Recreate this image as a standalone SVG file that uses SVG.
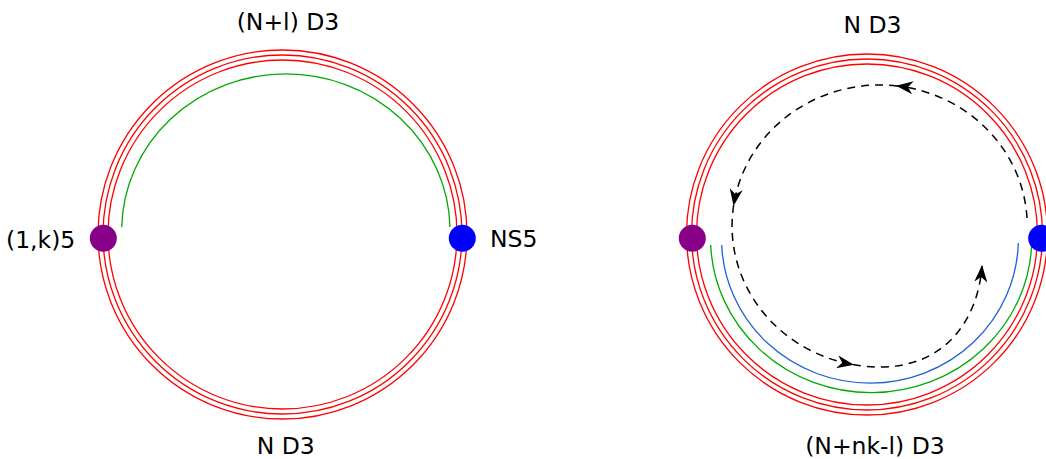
<svg xmlns="http://www.w3.org/2000/svg" width="1046" height="459" viewBox="0 0 1046 459">
<style>
.red{fill:none;stroke:#ff0000;stroke-width:1.3}
.green{fill:none;stroke:#00aa00;stroke-width:1.3}
.blue{fill:none;stroke:#1f5fd6;stroke-width:1.3}
.dash{fill:none;stroke:#000;stroke-width:1.5;stroke-dasharray:8 6}
.lbl{font-family:"DejaVu Sans",sans-serif;font-size:23.5px;fill:#000}
</style>
<defs>
<marker id="arr" markerUnits="userSpaceOnUse" markerWidth="22" markerHeight="18" viewBox="-18 -9 20 18" refX="0" refY="0" orient="auto">
<path d="M1,0 L-16,-6.5 L-11,0 L-16,6.5 Z" fill="#000"/>
</marker>
</defs>
<g id="left-branes">
<circle class="red" cx="282.5" cy="234.5" r="184.5"/>
<circle class="red" cx="282.5" cy="234.5" r="179.5"/>
<circle class="red" cx="282.5" cy="234.5" r="174.5"/>
<path class="green" d="M121.7,227 A164.2,157 0 0 1 450,227"/>
</g>
<g id="left-nodes">
<circle id="node-1k5-left" cx="103.3" cy="238.3" r="13.5" fill="#880088"/>
<circle id="node-ns5-left" cx="462.3" cy="238.3" r="13.5" fill="#0000ff"/>
</g>
<g id="right-branes">
<circle class="red" cx="867" cy="234.5" r="180.5"/>
<circle class="red" cx="867" cy="234.5" r="175.5"/>
<circle class="red" cx="867" cy="234.5" r="170.5"/>
<path class="green" d="M710.7,245 A160.6,154 0 0 0 1031.7,243"/>
<path class="blue" d="M721.7,245 A148.4,144.3 0 0 0 1018.3,243"/>
</g>
<g id="connectors">
<path class="dash" marker-end="url(#arr)" d="M1027,218 A148,141 0 0 0 897,85.9"/>
<path class="dash" marker-end="url(#arr)" d="M897,85.9 A148,141 0 0 0 733.7,205"/>
<path class="dash" marker-end="url(#arr)" d="M733.7,205 A148,141 0 0 0 853,364.6"/>
<path class="dash" marker-end="url(#arr)" d="M853,364.6 A148,141 0 0 0 880,367 C945,367 978,320 982,266"/>
</g>
<g id="right-nodes">
<circle id="node-1k5-right" cx="692.3" cy="238.3" r="13.5" fill="#880088"/>
<circle id="node-ns5-right" cx="1041.7" cy="238.3" r="13.5" fill="#0000ff"/>
</g>
<g id="labels">
<text class="lbl" x="288" y="30" text-anchor="middle">(N+l) D3</text>
<text class="lbl" x="285.7" y="454" text-anchor="middle">N D3</text>
<text class="lbl" x="490" y="247">NS5</text>
<text class="lbl" x="6" y="248">(1,k)5</text>
<text class="lbl" x="872.5" y="33" text-anchor="middle">N D3</text>
<text class="lbl" x="875" y="454" text-anchor="middle">(N+nk-l) D3</text>
</g>
</svg>
